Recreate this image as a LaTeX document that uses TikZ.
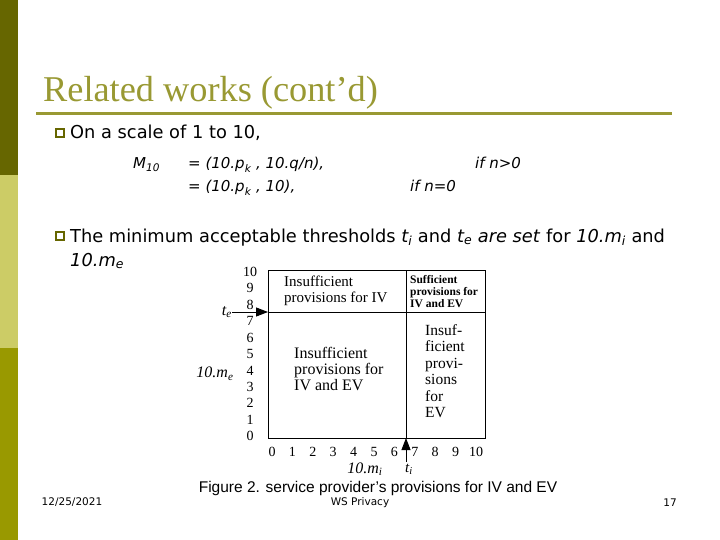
\documentclass[tikz,border=0pt]{standalone}
\usepackage{fontspec}
\setmainfont{DejaVu Sans}
\newfontfamily\titlefont{Liberation Serif}
\newfontfamily\figfont{Liberation Serif}
\newfontfamily\capfont{Liberation Sans}
\usetikzlibrary{arrows.meta}
\definecolor{barDark}{RGB}{102,102,0}
\definecolor{barLight}{RGB}{204,204,102}
\definecolor{barMid}{RGB}{153,153,0}
\definecolor{titleOlive}{RGB}{153,153,51}
\tikzset{bullet/.style = {draw=barDark, line width=1.4pt, minimum size=8pt, inner sep=0pt}}
\tikzset{body/.style = {anchor=base west, inner sep=0pt, font=\fontsize{17.8}{21}\selectfont}}
\tikzset{formula/.style = {body, font=\itshape\fontsize{15}{17}\selectfont}}
\tikzset{numlbl/.style = {inner sep=0pt, font=\figfont\fontsize{14}{14}\selectfont}}
\tikzset{axlbl/.style = {inner sep=0pt, font=\figfont\itshape\fontsize{16}{16}\selectfont}}
\tikzset{region/.style = {anchor=north west, inner sep=0pt, align=left, font=\figfont\fontsize{15}{15.5}\selectfont}}
\tikzset{thresh/.style = {-{Triangle[length=12pt, width=9pt]}, line width=0.9pt}}
\tikzset{foot/.style = {inner sep=0pt, font=\fontsize{10.5}{11}\selectfont}}

\begin{document}
\begin{tikzpicture}[x=1pt, y=-1pt]
    \useasboundingbox (0,0) rectangle (720,540);
    \fill[white] (0,0) rectangle (720,540);
    \fill[barDark] (0,0) rectangle (18,175);
    \fill[barLight] (0,175) rectangle (18,348);
    \fill[barMid] (0,348) rectangle (18,540);

    % title
    \node [anchor=base west, inner sep=0pt, text=titleOlive, font=\titlefont\fontsize{36.3}{40}\selectfont] (title) at (43,102) {Related works (cont’d)};
    \draw [titleOlive, line width=3pt] (36,114) -- (672,114);

    % first bullet
    \node [bullet] (b1) at (60,133) {};
    \node [body] (scale) at (70,139) {On a scale of 1 to 10,};
    \node [formula] (m10) at (133,169) {M\textsubscript{10}};
    \node [formula] (eq1) at (188,169) {= (10.p\textsubscript{k} , 10.q/n),};
    \node [formula] (if1) at (475,169) {if n>0};
    \node [formula] (eq2) at (188,192) {= (10.p\textsubscript{k} , 10),};
    \node [formula] (if2) at (410,192) {if n=0};

    % second bullet
    \node [bullet] (b2) at (60,236) {};
    \node [body] (thr1) at (70,242) {The minimum acceptable thresholds \textit{t\textsubscript{i}} and \textit{t\textsubscript{e} are set} for \textit{10.m\textsubscript{i}} and};
    \node [body] (thr2) at (70,266) {\textit{10.m\textsubscript{e}}};

    % figure
    \draw [line width=0.9pt] (268,270) rectangle (485,438);
    \coordinate (teL) at (268,312);
    \coordinate (teR) at (485,312);
    \coordinate (tiT) at (406,270);
    \coordinate (tiB) at (406,438);
    \draw [line width=0.9pt] (teL) -- (teR);
    \draw [line width=0.9pt] (tiT) -- (tiB);

    \foreach \i in {0,...,10}
        \node [numlbl] (x\i) at ({272+20.4*\i},452) {\i};
    \foreach \i in {0,...,10}
        \node [numlbl] (y\i) at (250,{436-16.4*\i}) {\i};

    \coordinate (teStart) at (232,312);
    \coordinate (tiStart) at (406,462);
    \draw [thresh] (teStart) -- (teL);
    \draw [thresh] (tiStart) -- (tiB);
    \node [axlbl, anchor=east] (te) at (teStart) {t\textsubscript{e}};
    \node [axlbl, font=\figfont\itshape\fontsize{15}{15}\selectfont] (ti) at (409,469) {t\textsubscript{i}};
    \node [axlbl] (me) at (215,374) {10.m\textsubscript{e}};
    \node [axlbl] (mi) at (365,469) {10.m\textsubscript{i}};

    \node [region] (iv) at (284,276) {Insufficient\\provisions for IV};
    \node [region, font=\figfont\bfseries\fontsize{11.5}{12}\selectfont] (ok) at (410,275) {Sufficient\\provisions for\\IV and EV};
    \node [region, font=\figfont\fontsize{16}{16}\selectfont] (ivev) at (294,347) {Insufficient\\provisions for\\IV and EV};
    \node [region, font=\figfont\fontsize{15.5}{16.5}\selectfont] (ev) at (425,324) {Insuf-\\ficient\\provi-\\sions\\for\\EV};

    % caption and footer
    \node [inner sep=0pt, font=\capfont\fontsize{15.5}{17}\selectfont] (cap) at (378,488) {Figure 2. service provider’s provisions for IV and EV};
    \node [foot] (date) at (72,502) {12/25/2021};
    \node [foot] (ws) at (360,503) {WS Privacy};
    \node [foot] (page) at (670,503) {17};
\end{tikzpicture}
\end{document}
